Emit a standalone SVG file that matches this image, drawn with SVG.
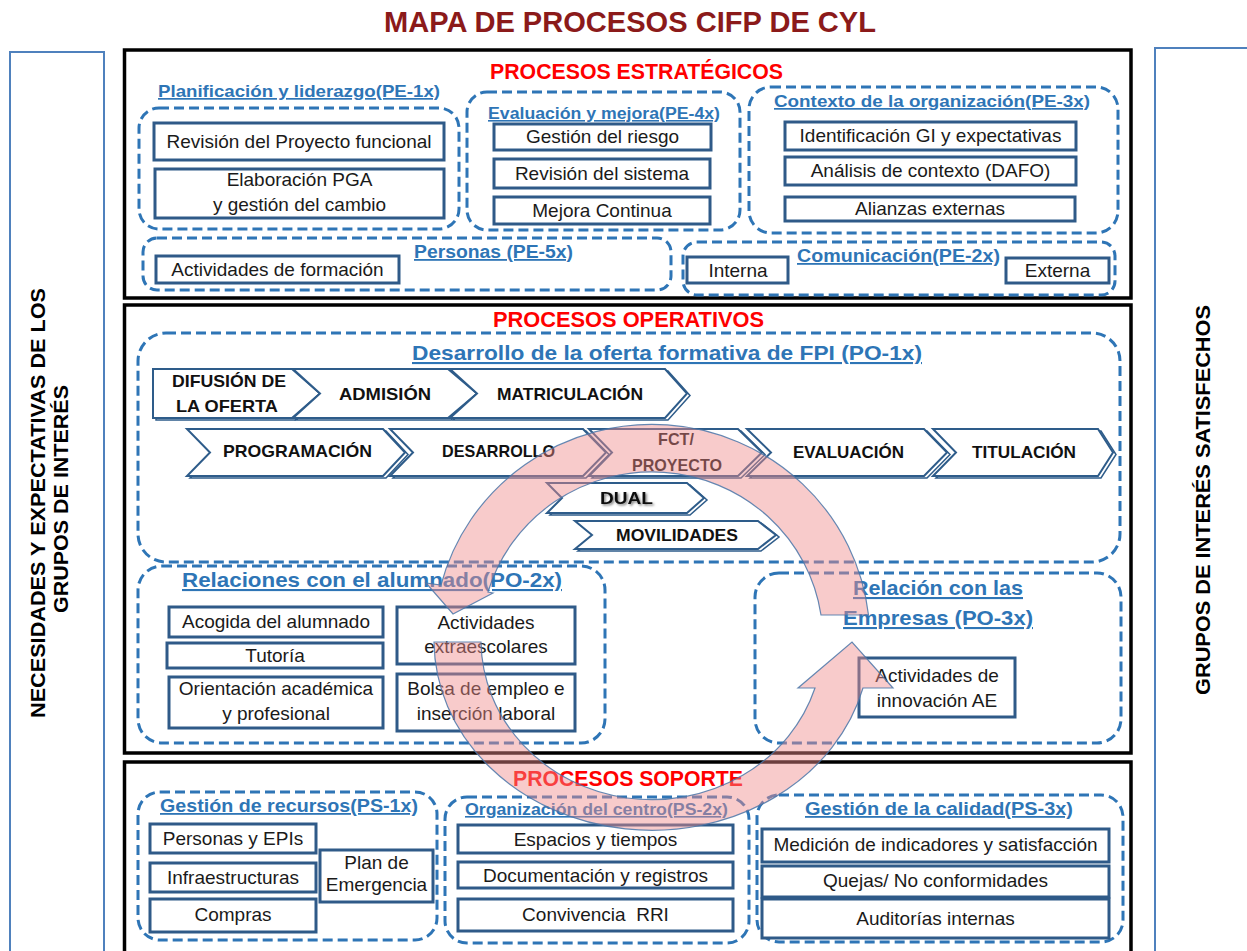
<svg xmlns="http://www.w3.org/2000/svg" width="1247" height="951" viewBox="0 0 1247 951">
<defs>
<style>
text{font-family:"Liberation Sans",Arial,sans-serif;text-anchor:middle}
.frame{fill:none;stroke:#000;stroke-width:3.5}
.side{fill:#fff;stroke:#4f81bd;stroke-width:2}
.grp{fill:none;stroke:#2e75b6;stroke-width:3;stroke-dasharray:10 5}
.box{fill:#fff;stroke:#2f5a88;stroke-width:3}
.chev{fill:#fff;stroke:#2e5c8a;stroke-width:2;stroke-linejoin:miter}
.chsh{fill:none;stroke:#2e5c8a;stroke-width:1.5}
.bt{font-size:19px;fill:#1a1a1a}
.gt{font-weight:bold;fill:#2e75b6;text-decoration:underline}
.sec{font-weight:bold;fill:#ff0000;font-size:22px}
.ch{font-weight:bold;font-size:17px;fill:#111}
.vt{font-weight:bold;font-size:20px;fill:#000}
.arr{fill:#f08c8c;fill-opacity:0.45;stroke:#4a76a8;stroke-width:1.2;stroke-opacity:0.85}
</style>
<filter id="sh" x="-10%" y="-30%" width="130%" height="160%">
<feDropShadow dx="1.5" dy="1.5" stdDeviation="0.8" flood-color="#000" flood-opacity="0.5"/>
</filter>
</defs>
<rect width="1247" height="951" fill="#fff"/>

<g id="title">
<text x="630" y="32" font-size="30" font-weight="bold" fill="#8b1a1a" textLength="492" lengthAdjust="spacingAndGlyphs">MAPA DE PROCESOS CIFP DE CYL</text>
</g>

<g id="left-panel">
<rect class="side" x="10" y="52" width="94" height="910"/>
<text class="vt" transform="translate(45,503) rotate(-90)" textLength="430" lengthAdjust="spacingAndGlyphs">NECESIDADES Y EXPECTATIVAS DE LOS</text>
<text class="vt" transform="translate(68,499) rotate(-90)" textLength="228" lengthAdjust="spacingAndGlyphs">GRUPOS DE INTERÉS</text>
</g>

<g id="right-panel">
<rect class="side" x="1155" y="48" width="100" height="910"/>
<text class="vt" transform="translate(1210,500) rotate(-90)" textLength="390" lengthAdjust="spacingAndGlyphs">GRUPOS DE INTERÉS SATISFECHOS</text>
</g>

<!-- ESTRATEGICOS -->
<g id="estrategicos">
<rect class="frame" x="124.5" y="50" width="1006.5" height="248"/>
<text class="sec" x="636.5" y="79" textLength="293" lengthAdjust="spacingAndGlyphs">PROCESOS ESTRATÉGICOS</text>

<g id="pe1">
<rect class="grp" x="139" y="108" width="320" height="121" rx="20"/>
<text class="gt" x="299" y="97" font-size="17" textLength="282" lengthAdjust="spacingAndGlyphs">Planificación y liderazgo(PE-1x)</text>
<g id="pe1-a"><rect class="box" x="154" y="123" width="290" height="37"/><text class="bt" x="299" y="148">Revisión del Proyecto funcional</text></g>
<g id="pe1-b"><rect class="box" x="155" y="169" width="289" height="49"/><text class="bt" x="299.5" y="186">Elaboración PGA</text><text class="bt" x="299.5" y="211">y gestión del cambio</text></g>
</g>

<g id="pe4">
<rect class="grp" x="467" y="92" width="273" height="138" rx="20"/>
<text class="gt" x="604" y="119" font-size="16" textLength="232" lengthAdjust="spacingAndGlyphs">Evaluación y mejora(PE-4x)</text>
<g id="pe4-a"><rect class="box" x="494" y="124" width="217" height="26"/><text class="bt" x="602.5" y="143">Gestión del riesgo</text></g>
<g id="pe4-b"><rect class="box" x="494" y="159" width="216" height="29"/><text class="bt" x="602" y="180">Revisión del sistema</text></g>
<g id="pe4-c"><rect class="box" x="494" y="197" width="216" height="27"/><text class="bt" x="602" y="217">Mejora Continua</text></g>
</g>

<g id="pe3">
<rect class="grp" x="749" y="87" width="369" height="146" rx="22"/>
<text class="gt" x="932" y="107" font-size="17" textLength="316" lengthAdjust="spacingAndGlyphs">Contexto de la organización(PE-3x)</text>
<g id="pe3-a"><rect class="box" x="785" y="122" width="291" height="28"/><text class="bt" x="930.5" y="142">Identificación GI y expectativas</text></g>
<g id="pe3-b"><rect class="box" x="785" y="157" width="291" height="28"/><text class="bt" x="930.5" y="177">Análisis de contexto (DAFO)</text></g>
<g id="pe3-c"><rect class="box" x="785" y="197" width="290" height="24"/><text class="bt" x="930" y="215">Alianzas externas</text></g>
</g>

<g id="pe5">
<rect class="grp" x="143" y="238" width="528" height="52" rx="14"/>
<text class="gt" x="493.5" y="258" font-size="18" textLength="159" lengthAdjust="spacingAndGlyphs">Personas (PE-5x)</text>
<g id="pe5-a"><rect class="box" x="156" y="256" width="243" height="27"/><text class="bt" x="277.5" y="276">Actividades de formación</text></g>
</g>

<g id="pe2">
<rect class="grp" x="683" y="242" width="432" height="53" rx="14"/>
<text class="gt" x="898.5" y="262" font-size="18" textLength="203" lengthAdjust="spacingAndGlyphs">Comunicación(PE-2x)</text>
<g id="pe2-a"><rect class="box" x="687" y="257" width="101" height="26"/><text class="bt" x="738" y="277">Interna</text></g>
<g id="pe2-b"><rect class="box" x="1006" y="258" width="103" height="25"/><text class="bt" x="1057.5" y="277">Externa</text></g>
</g>
</g>

<!-- OPERATIVOS -->
<g id="operativos">
<rect class="frame" x="124.5" y="305" width="1006.5" height="448"/>
<text class="sec" x="628.5" y="327" textLength="271" lengthAdjust="spacingAndGlyphs">PROCESOS OPERATIVOS</text>

<g id="po1">
<rect class="grp" x="138" y="333" width="982" height="229" rx="28"/>
<text class="gt" x="667" y="360" font-size="21" textLength="510" lengthAdjust="spacingAndGlyphs">Desarrollo de la oferta formativa de FPI (PO-1x)</text>

<g id="ch-difusion">
<polygon class="chsh" points="156,371 295,371 323,395.5 295,420 156,420"/>
<polygon class="chev" points="153,369 292,369 320,393.5 292,418 153,418"/>
<text class="ch" x="229" y="387" textLength="114" lengthAdjust="spacingAndGlyphs">DIFUSIÓN DE</text>
<text class="ch" x="227" y="412" textLength="102" lengthAdjust="spacingAndGlyphs">LA OFERTA</text>
</g>
<g id="ch-admision">
<polygon class="chsh" points="296,371 451,371 480,395.5 451,420 296,420 323,395.5"/>
<polygon class="chev" points="293,369 448,369 477,393.5 448,418 293,418 320,393.5"/>
<text class="ch" x="385" y="400" textLength="92" lengthAdjust="spacingAndGlyphs">ADMISIÓN</text>
</g>
<g id="ch-matricula">
<polygon class="chsh" points="453,371 668,371 690,395.5 668,420 453,420 480,395.5"/>
<polygon class="chev" points="450,369 665,369 687,393.5 665,418 450,418 477,393.5"/>
<text class="ch" x="570" y="400" textLength="146" lengthAdjust="spacingAndGlyphs">MATRICULACIÓN</text>
</g>
<g id="ch-programacion">
<polygon class="chsh" points="190,431 386,431 408,454.5 386,478 190,478 213,454.5"/>
<polygon class="chev" points="187,429 383,429 405,452.5 383,476 187,476 210,452.5"/>
<text class="ch" x="297.5" y="457" textLength="149" lengthAdjust="spacingAndGlyphs">PROGRAMACIÓN</text>
</g>
<g id="ch-desarrollo">
<polygon class="chsh" points="393,431 586,431 609,454.5 586,478 393,478 416,454.5"/>
<polygon class="chev" points="390,429 583,429 606,452.5 583,476 390,476 413,452.5"/>
<text class="ch" x="498.5" y="457" textLength="113" lengthAdjust="spacingAndGlyphs">DESARROLLO</text>
</g>
<g id="ch-fct">
<polygon class="chsh" points="592,431 741,431 765,454.5 741,478 592,478 615,454.5"/>
<polygon class="chev" points="589,429 738,429 762,452.5 738,476 589,476 612,452.5"/>
<text class="ch" x="676" y="445" textLength="36" lengthAdjust="spacingAndGlyphs">FCT/</text>
<text class="ch" x="677" y="471" textLength="90" lengthAdjust="spacingAndGlyphs">PROYECTO</text>
</g>
<g id="ch-evaluacion">
<polygon class="chsh" points="750,431 927,431 950,454.5 927,478 750,478 774,454.5"/>
<polygon class="chev" points="747,429 924,429 947,452.5 924,476 747,476 771,452.5"/>
<text class="ch" x="848.5" y="458" textLength="111" lengthAdjust="spacingAndGlyphs">EVALUACIÓN</text>
</g>
<g id="ch-titulacion">
<polygon class="chsh" points="936,431 1101,431 1116,454.5 1101,478 936,478 959,454.5"/>
<polygon class="chev" points="933,429 1098,429 1113,452.5 1098,476 933,476 956,452.5"/>
<text class="ch" x="1024" y="458" textLength="104" lengthAdjust="spacingAndGlyphs">TITULACIÓN</text>
</g>
<g id="ch-dual">
<polygon class="chsh" points="550,485 690,485 707,500 690,515 550,515 565,500"/>
<polygon class="chev" points="547,483 687,483 704,498 687,513 547,513 562,498"/>
<text class="ch" x="626.5" y="504" font-size="19" textLength="53" lengthAdjust="spacingAndGlyphs" filter="url(#sh)">DUAL</text>
</g>
<g id="ch-movilidades">
<polygon class="chsh" points="578,523 761,523 779,537 761,551 578,551 595,537"/>
<polygon class="chev" points="575,521 758,521 776,535 758,549 575,549 592,535"/>
<text class="ch" x="677" y="541" textLength="122" lengthAdjust="spacingAndGlyphs">MOVILIDADES</text>
</g>
</g>

<g id="po2">
<rect class="grp" x="138" y="566" width="467" height="177" rx="24"/>
<text class="gt" x="372" y="587" font-size="21" textLength="380" lengthAdjust="spacingAndGlyphs">Relaciones con el alumnado(PO-2x)</text>
<g id="po2-a"><rect class="box" x="169" y="607" width="214" height="30"/><text class="bt" x="276" y="628">Acogida del alumnado</text></g>
<g id="po2-b"><rect class="box" x="167" y="643" width="216" height="25"/><text class="bt" x="275" y="662">Tutoría</text></g>
<g id="po2-c"><rect class="box" x="169" y="677" width="214" height="51"/><text class="bt" x="276" y="695">Orientación académica</text><text class="bt" x="276" y="720">y profesional</text></g>
<g id="po2-d"><rect class="box" x="397" y="607" width="178" height="57"/><text class="bt" x="486" y="629">Actividades</text><text class="bt" x="486" y="653">extraescolares</text></g>
<g id="po2-e"><rect class="box" x="397" y="674" width="178" height="57"/><text class="bt" x="486" y="695">Bolsa de empleo e</text><text class="bt" x="486" y="720">inserción laboral</text></g>
</g>

<g id="po3">
<rect class="grp" x="755" y="573" width="366" height="170" rx="24"/>
<text class="gt" x="938" y="595" font-size="21" textLength="170" lengthAdjust="spacingAndGlyphs">Relación con las</text>
<text class="gt" x="938" y="625" font-size="21" textLength="190" lengthAdjust="spacingAndGlyphs">Empresas (PO-3x)</text>
<g id="po3-a"><rect class="box" x="859" y="658" width="156" height="59"/><text class="bt" x="937" y="682">Actividades de</text><text class="bt" x="937" y="707">innovación AE</text></g>
</g>
</g>

<!-- SOPORTE -->
<g id="soporte">
<rect class="frame" x="124.5" y="762" width="1006.5" height="210"/>
<text class="sec" x="628" y="786" textLength="230" lengthAdjust="spacingAndGlyphs">PROCESOS SOPORTE</text>

<g id="ps1">
<rect class="grp" x="138" y="792" width="299" height="148" rx="22"/>
<text class="gt" x="289" y="812" font-size="18" textLength="258" lengthAdjust="spacingAndGlyphs">Gestión de recursos(PS-1x)</text>
<g id="ps1-a"><rect class="box" x="150" y="824" width="166" height="29"/><text class="bt" x="233" y="845">Personas y EPIs</text></g>
<g id="ps1-b"><rect class="box" x="150" y="863" width="166" height="29"/><text class="bt" x="233" y="884">Infraestructuras</text></g>
<g id="ps1-c"><rect class="box" x="150" y="899" width="166" height="33"/><text class="bt" x="233" y="921">Compras</text></g>
<g id="ps1-d"><rect class="box" x="320" y="850" width="113" height="52"/><text class="bt" x="376.5" y="869" font-size="16">Plan de</text><text class="bt" x="376.5" y="891" font-size="16">Emergencia</text></g>
</g>

<g id="ps2">
<rect class="grp" x="445" y="797" width="304" height="146" rx="22"/>
<text class="gt" x="596.5" y="815" font-size="16" textLength="263" lengthAdjust="spacingAndGlyphs">Organización del centro(PS-2x)</text>
<g id="ps2-a"><rect class="box" x="458" y="825" width="275" height="28"/><text class="bt" x="595.5" y="846">Espacios y tiempos</text></g>
<g id="ps2-b"><rect class="box" x="458" y="862" width="275" height="26"/><text class="bt" x="595.5" y="882">Documentación y registros</text></g>
<g id="ps2-c"><rect class="box" x="458" y="899" width="275" height="32"/><text class="bt" x="595.5" y="921" xml:space="preserve">Convivencia  RRI</text></g>
</g>

<g id="ps3">
<rect class="grp" x="757" y="795" width="366" height="147" rx="22"/>
<text class="gt" x="939" y="815" font-size="18" textLength="268" lengthAdjust="spacingAndGlyphs">Gestión de la calidad(PS-3x)</text>
<g id="ps3-a"><rect class="box" x="762" y="829" width="347" height="33"/><text class="bt" x="935.5" y="851">Medición de indicadores y satisfacción</text></g>
<g id="ps3-b"><rect class="box" x="762" y="866" width="347" height="31"/><text class="bt" x="935.5" y="887">Quejas/ No conformidades</text></g>
<g id="ps3-c"><rect class="box" x="762" y="899" width="347" height="39"/><text class="bt" x="935.5" y="925">Auditorías internas</text></g>
</g>
</g>

<!-- circular flow arrows -->
<g id="connectors">
<path class="arr" d="M 868.5 615 A 218 215 0 0 0 441 585 L 426 583 L 453 614 L 493 593 L 488 592 A 171 168 0 0 1 821 615 Z"/>
<path class="arr" d="M 434 642 A 218 190 0 0 0 863 688 L 893 688 L 852 642 L 798 688 L 815 688 A 171 160 0 0 1 481 642 Z"/>
</g>
</svg>
